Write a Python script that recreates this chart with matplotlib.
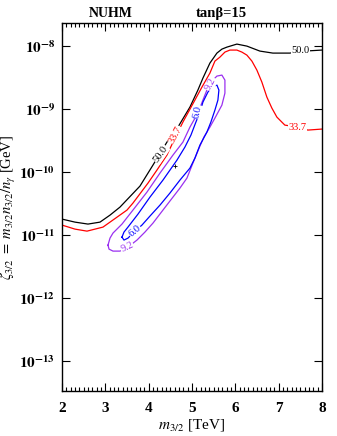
import numpy as np
import matplotlib
matplotlib.use("Agg")
import matplotlib.pyplot as plt
from matplotlib.ticker import FixedLocator, MultipleLocator, NullLocator, FuncFormatter

plt.rcParams['font.family'] = ['Liberation Serif', 'DejaVu Serif']
plt.rcParams['mathtext.fontset'] = 'stix'

# contour 50.0 (black)
black_x = [2.000, 2.300, 2.600, 2.877, 3.108, 3.338, 3.800, 4.100, 4.423, 4.677, 4.954, 5.138,
           5.254, 5.415, 5.577, 5.692, 5.808, 6.038, 6.269, 6.569, 6.869, 7.262, 7.608, 8.000]
black_log = [-10.746, -10.794, -10.825, -10.794, -10.683, -10.556, -10.222, -9.889, -9.524, -9.286,
             -8.968, -8.698, -8.508, -8.270, -8.111, -8.048, -8.016, -7.968, -8.000, -8.079,
             -8.111, -8.111, -8.079, -8.063]

# contour 33.7 (red)
red_x = [2.000, 2.300, 2.577, 2.946, 3.108, 3.500, 3.638, 3.985, 4.192, 4.423, 4.608, 4.792, 5.069,
         5.231, 5.415, 5.531, 5.646, 5.762, 5.877, 6.038, 6.154, 6.269, 6.385, 6.500, 6.615,
         6.731, 6.846, 6.962, 7.146, 7.446, 7.677, 8.000]
red_log = [-10.841, -10.905, -10.937, -10.873, -10.794, -10.603, -10.492, -10.175, -9.968, -9.730,
           -9.460, -9.206, -8.857, -8.651, -8.429, -8.238, -8.175, -8.095, -8.063, -8.063,
           -8.095, -8.143, -8.238, -8.381, -8.571, -8.810, -8.984, -9.127, -9.254, -9.286,
           -9.333, -9.317]

# contour 9.2 (purple), closed
purple_x = [3.062, 3.108, 3.177, 3.385, 3.638, 3.962, 4.262, 4.562, 4.792, 4.954, 5.138, 5.254,
            5.346, 5.462, 5.577, 5.692, 5.762, 5.762, 5.692, 5.531, 5.415, 5.277, 5.185, 5.023,
            4.885, 4.723, 4.562, 4.331, 4.100, 3.915, 3.731, 3.523, 3.338, 3.177, 3.085, 3.062]
purple_log = [-11.159, -11.048, -10.968, -10.825, -10.603, -10.317, -10.016, -9.730, -9.524, -9.286,
              -9.063, -8.857, -8.698, -8.556, -8.476, -8.460, -8.540, -8.746, -8.937, -9.143,
              -9.286, -9.444, -9.587, -9.857, -10.095, -10.254, -10.397, -10.603, -10.810,
              -10.952, -11.079, -11.190, -11.254, -11.254, -11.222, -11.159]

# contour 6.0 (blue), closed
blue_x = [3.385, 3.431, 3.523, 3.754, 4.031, 4.331, 4.654, 4.838, 4.977, 5.092, 5.185, 5.254, 5.369,
          5.485, 5.577, 5.623, 5.600, 5.531, 5.438, 5.346, 5.185, 5.069, 4.954, 4.723, 4.492,
          4.262, 4.031, 3.846, 3.662, 3.523, 3.431, 3.385]
blue_log = [-11.032, -10.952, -10.873, -10.667, -10.397, -10.127, -9.810, -9.603, -9.413, -9.206,
            -9.048, -8.889, -8.730, -8.635, -8.619, -8.698, -8.857, -9.016, -9.206, -9.365,
            -9.571, -9.778, -9.937, -10.127, -10.333, -10.524, -10.698, -10.841, -10.952,
            -11.048, -11.079, -11.032]

best_x = [4.61]
best_log = [-9.90]

# contour labels: text, x, log10(y), rotation, colour
labels = [("50.0", 4.285, -9.714, 55, 'black'),
          ("33.7", 4.631, -9.413, 62, 'red'),
          ("9.2", 5.438, -8.603, 62, '#9a30f0'),
          ("6.0", 5.138, -9.048, 78, 'blue'),
          ("6.0", 3.685, -10.937, 40, 'blue'),
          ("9.2", 3.500, -11.190, 25, '#9a30f0'),
          ("50.0", 7.515, -8.063, 0, 'black'),
          ("33.7", 7.446, -9.286, 0, 'red')]

fig = plt.figure(figsize=(3.37, 4.36), dpi=100)
ax = fig.add_axes([0.184, 0.103, 0.771, 0.844])

lw = 0.9
ax.plot(black_x, 10 ** np.array(black_log), color='black', lw=lw)
ax.plot(red_x, 10 ** np.array(red_log), color='red', lw=lw)
ax.plot(purple_x, 10 ** np.array(purple_log), color='#9a30f0', lw=lw)
ax.plot(blue_x, 10 ** np.array(blue_log), color='blue', lw=lw)
ax.plot(best_x, 10 ** np.array(best_log), '+', color='black', ms=3, mew=0.6)

for txt, lx, ly, rot, col in labels:
    ax.text(lx, 10 ** ly, txt, color=col, fontsize=7.5, rotation=rot,
            ha='center', va='center', rotation_mode='anchor',
            bbox=dict(facecolor='white', edgecolor='none', pad=0.4))

ax.set_yscale('log')
ax.set_xlim(2, 8)
ax.set_ylim(10 ** -13.476, 10 ** -7.635)

ax.xaxis.set_major_locator(MultipleLocator(1))
ax.xaxis.set_minor_locator(MultipleLocator(0.1))
ax.yaxis.set_major_locator(FixedLocator([1e-13, 1e-12, 1e-11, 1e-10, 1e-9, 1e-8]))
ax.yaxis.set_minor_locator(NullLocator())
ax.yaxis.set_major_formatter(FuncFormatter(
    lambda v, p: r'$\mathbf{10^{%d}}$' % int(round(np.log10(v)))))
ax.tick_params(which='both', direction='in', top=True, right=True, width=0.8)
ax.tick_params(which='major', length=6, labelsize=11)
ax.tick_params(axis='x', which='major', pad=8)
ax.tick_params(axis='y', which='major', pad=5)
ax.tick_params(which='minor', length=3)
for lab in ax.get_xticklabels():
    lab.set_fontweight('bold')
for s in ax.spines.values():
    s.set_linewidth(1.0)

ax.set_xlabel(r'$m_{3/2}$ [TeV]', fontsize=11, labelpad=1)
ax.set_ylabel(r'$\zeta_{3/2}\ =\ m_{3/2}n_{3/2}/n_{\gamma}$ [GeV]', fontsize=10.5, labelpad=1)

fig.text(0.329, 0.968, 'NUHM', fontsize=10, fontweight='bold', ha='center', va='center')
fig.text(0.656, 0.968, 'tanβ=15', fontsize=10.5, fontweight='bold', ha='center', va='center')

fig.savefig('out.png', dpi=100)
